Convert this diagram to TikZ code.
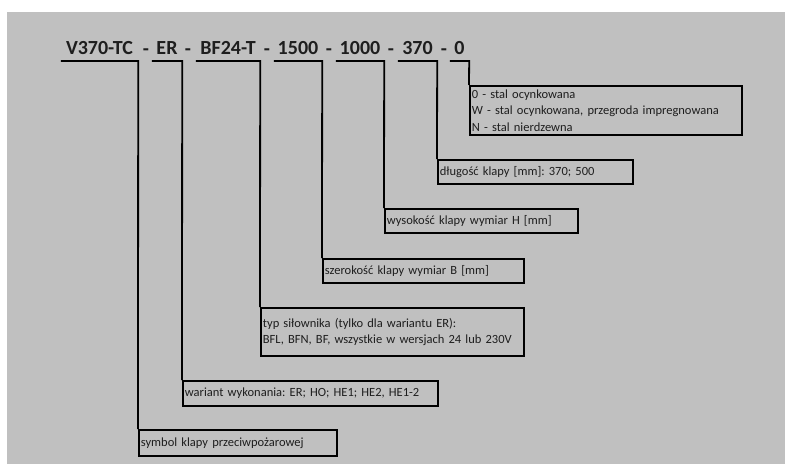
\documentclass[tikz,border=0pt]{standalone}
\usepackage{fontspec}
\setmainfont{Carlito}
\usetikzlibrary{positioning}

\definecolor{tlo}{HTML}{C0C0C0}
\definecolor{napis}{HTML}{1E1E1E}
\frenchspacing

\begin{document}
\begin{tikzpicture}[
	x=1pt,
	y=-1pt,
	linia/.style={
		line width=1.8pt,
		line join=miter
	},
	kod/.style={
		font=\fontsize{20}{24}\selectfont\bfseries,
		text=napis,
		inner xsep=0pt,
		inner ysep=6pt,
		text depth=0pt,
		anchor=south
	},
	kreska/.style={
		font=\fontsize{20}{24}\selectfont\bfseries,
		text=napis,
		inner sep=0pt,
		anchor=base
	},
	opis/.style={
		draw,
		line width=1.8pt,
		font=\fontsize{12.5}{16.5}\selectfont,
		text=napis,
		align=left,
		inner xsep=2pt,
		inner ysep=0pt,
		anchor=north west
	}
]
\useasboundingbox (0,0) rectangle (785,464);
\fill[tlo] (7,12) rectangle (785,464);

% kod klapy
\node[kod, minimum width=77pt] (SYM) at (99.5,61) {V370-TC};
\node[kod, minimum width=30pt] (WAR) at (167,61) {ER};
\node[kod, minimum width=64pt] (NAP) at (228,61) {BF24-T};
\node[kod, minimum width=48pt] (SZER) at (298,61) {1500};
\node[kod, minimum width=48pt] (WYS) at (360,61) {1000};
\node[kod, minimum width=39pt] (DL) at (417.5,61) {370};
\node[kod, minimum width=19pt] (MAT) at (459.5,61) {0};

\node[kreska] (k1) at (146,55) {-};
\node[kreska] (k2) at (188,55) {-};
\node[kreska] (k3) at (267,55) {-};
\node[kreska] (k4) at (329,55) {-};
\node[kreska] (k5) at (391,55) {-};
\node[kreska] (k6) at (444,55) {-};

% opisy
\node[opis, text width=268pt, minimum height=49pt] (MATo) at (469,85)
{0 - stal ocynkowana\\W - stal ocynkowana, przegroda impregnowana\\N - stal nierdzewna};
\node[opis, text width=191pt, minimum height=24pt] (DLo) at (437,159)
{długość klapy [mm]: 370; 500};
\node[opis, text width=189pt, minimum height=24pt] (WYSo) at (384,208)
{wysokość klapy wymiar H [mm]};
\node[opis, text width=197pt, minimum height=24pt] (SZERo) at (322,258)
{szerokość klapy wymiar B [mm]};
\node[opis, text width=259pt, minimum height=48pt] (NAPo) at (260,307)
{typ siłownika (tylko dla wariantu ER):\\BFL, BFN, BF, wszystkie w wersjach 24 lub 230V};
\node[opis, text width=251pt, minimum height=25pt] (WARo) at (182,380)
{wariant wykonania: ER; HO; HE1; HE2, HE1-2};
\node[opis, text width=194pt, minimum height=26pt] (SYMo) at (138,429)
{symbol klapy przeciwpożarowej};

\draw[linia] (SYM.south west) -- (SYM.south east) -- (SYMo.north west);
\draw[linia] (WAR.south west) -- (WAR.south east) -- (WARo.north west);
\draw[linia] (NAP.south west) -- (NAP.south east) -- (NAPo.north west);
\draw[linia] (SZER.south west) -- (SZER.south east) -- (SZERo.north west);
\draw[linia] (WYS.south west) -- (WYS.south east) -- (WYSo.north west);
\draw[linia] (DL.south west) -- (DL.south east) -- (DLo.north west);
\draw[linia] (MAT.south west) -- (MAT.south east) -- (MATo.north west);

\end{tikzpicture}
\end{document}
